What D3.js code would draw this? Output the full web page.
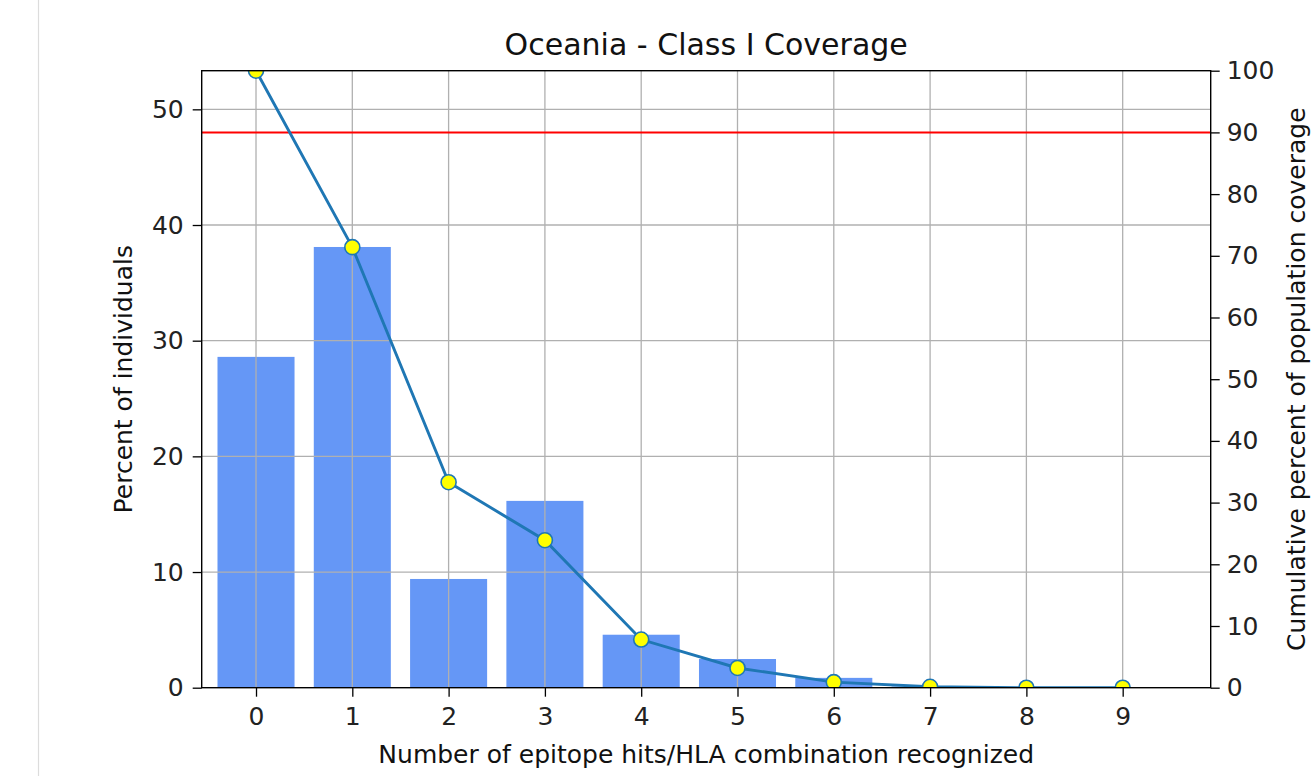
<!DOCTYPE html>
<html>
<head>
<meta charset="utf-8">
<script src="https://cdn.jsdelivr.net/npm/d3@7"></script>
<style>
  html, body { margin: 0; padding: 0; background: #fff; }
  svg { display: block; font-family: "DejaVu Sans", sans-serif; }
</style>
</head>
<body>
<svg id="chart" width="1315" height="776"></svg>
<script>
// ---- data ----
const categories = [0, 1, 2, 3, 4, 5, 6, 7, 8, 9];
const percentIndividuals = [28.6, 38.1, 9.4, 16.15, 4.58, 2.48, 0.85, 0.1, 0, 0];
const cumulativeCoverage = [100, 71.4, 33.3, 23.9, 7.8, 3.2, 0.9, 0.15, 0, 0];
const leftTicks = [0, 10, 20, 30, 40, 50];
const rightTicks = [0, 10, 20, 30, 40, 50, 60, 70, 80, 90, 100];
const thresholdLine = 90;
const titleText = "Oceania - Class I Coverage";
const xLabelText = "Number of epitope hits/HLA combination recognized";
const yLeftLabelText = "Percent of individuals";
const yRightLabelText = "Cumulative percent of population coverage";

// ---- layout ----
const L = 201.7, R = 1210.7, T = 70.7, B = 687.7;
const svg = d3.select("#chart");

// notebook border
svg.append("line").attr("x1", 38.5).attr("x2", 38.5).attr("y1", 0).attr("y2", 776)
  .attr("stroke", "#dcdcdc").attr("stroke-width", 1.2);

const x = d3.scaleLinear().domain([-0.564, 9.914]).range([L, R]);
const yL = d3.scaleLinear().domain([0, d3.max(percentIndividuals) * 1.4]).range([B, T]);
const yR = d3.scaleLinear().domain([0, 100]).range([B, T]);

svg.append("defs").append("clipPath").attr("id", "clip")
  .append("rect").attr("x", L).attr("y", T).attr("width", R - L).attr("height", B - T);

const plot = svg.append("g").attr("clip-path", "url(#clip)");

// bars
plot.selectAll("rect.bar").data(categories).join("rect")
  .attr("class", "bar")
  .attr("x", d => x(d - 0.4))
  .attr("width", d => x(d + 0.4) - x(d - 0.4))
  .attr("y", (d, i) => yL(percentIndividuals[i]))
  .attr("height", (d, i) => B - yL(percentIndividuals[i]))
  .attr("fill", "#6597F6");

// grid
plot.selectAll("line.vgrid").data(categories).join("line")
  .attr("x1", d => x(d)).attr("x2", d => x(d)).attr("y1", T).attr("y2", B)
  .attr("stroke", "#b0b0b0").attr("stroke-width", 1.3);
plot.selectAll("line.hgrid").data(leftTicks).join("line")
  .attr("x1", L).attr("x2", R).attr("y1", d => yL(d)).attr("y2", d => yL(d))
  .attr("stroke", "#b0b0b0").attr("stroke-width", 1.3);

// threshold line
plot.append("line").attr("x1", L).attr("x2", R)
  .attr("y1", yR(thresholdLine)).attr("y2", yR(thresholdLine))
  .attr("stroke", "#ff0000").attr("stroke-width", 2);

// cumulative line
const line = d3.line().x((d, i) => x(categories[i])).y(d => yR(d));
plot.append("path").datum(cumulativeCoverage).attr("d", line)
  .attr("fill", "none").attr("stroke", "#1f77b4").attr("stroke-width", 2.9);
plot.selectAll("circle.pt").data(cumulativeCoverage).join("circle")
  .attr("cx", (d, i) => x(categories[i])).attr("cy", d => yR(d)).attr("r", 7.5)
  .attr("fill", "#ffff00").attr("stroke", "#1f77b4").attr("stroke-width", 1.6);

// axes
const fs = 25;
const gx = svg.append("g").attr("transform", `translate(0,${B})`)
  .call(d3.axisBottom(x).tickValues(categories).tickFormat(d3.format("d")).tickSizeOuter(0).tickSize(9).tickPadding(11));
const gl = svg.append("g").attr("transform", `translate(${L},0)`)
  .call(d3.axisLeft(yL).tickValues(leftTicks).tickFormat(d3.format("d")).tickSizeOuter(0).tickSize(9).tickPadding(9));
const gr = svg.append("g").attr("transform", `translate(${R},0)`)
  .call(d3.axisRight(yR).tickValues(rightTicks).tickFormat(d3.format("d")).tickSizeOuter(0).tickSize(9).tickPadding(7));
[gx, gl, gr].forEach(g => {
  g.select(".domain").remove();
  g.selectAll(".tick line").attr("stroke", "#000").attr("stroke-width", 1.3);
  g.selectAll(".tick text").attr("font-size", fs).attr("fill", "#222")
    .attr("font-family", "DejaVu Sans, sans-serif");
});

// spines
svg.append("rect").attr("x", L).attr("y", T).attr("width", R - L).attr("height", B - T)
  .attr("fill", "none").attr("stroke", "#000").attr("stroke-width", 1.4);

// labels
svg.append("text").attr("x", (L + R) / 2).attr("y", 55).attr("text-anchor", "middle")
  .attr("font-size", 30).attr("fill", "#111").text(titleText);
svg.append("text").attr("x", (L + R) / 2).attr("y", 763).attr("text-anchor", "middle")
  .attr("font-size", 25).attr("fill", "#111").text(xLabelText);
svg.append("text").attr("transform", `translate(131.5,${(T + B) / 2}) rotate(-90)`)
  .attr("text-anchor", "middle").attr("font-size", 25).attr("fill", "#111").text(yLeftLabelText);
svg.append("text").attr("transform", `translate(1305,${(T + B) / 2}) rotate(-90)`)
  .attr("text-anchor", "middle").attr("font-size", 25).attr("fill", "#111").text(yRightLabelText);
</script>
</body>
</html>
